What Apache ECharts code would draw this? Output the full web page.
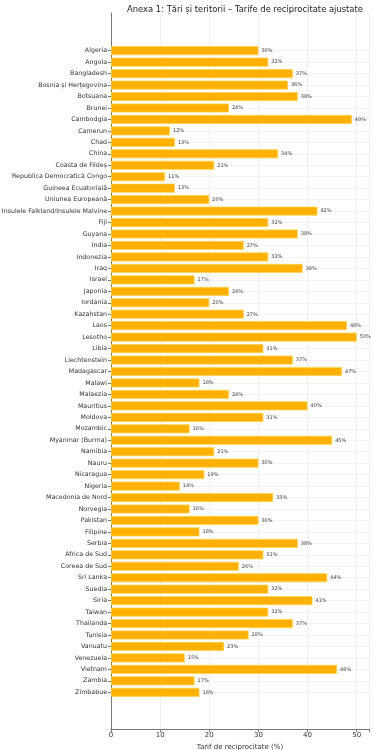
<!DOCTYPE html>
<html>
<head>
<meta charset="utf-8">
<script src="https://cdn.jsdelivr.net/npm/echarts@6/dist/echarts.min.js"></script>
<style>html,body{margin:0;padding:0;background:#fff;}#c{width:373px;height:750px;}</style>
</head>
<body>
<div id="c"></div>
<script>
var categories = ["Algeria","Angola","Bangladesh","Bosnia și Herțegovina","Botsuana","Brunei","Cambodgia","Camerun","Chad","China","Coasta de Fildeș","Republica Democratică Congo","Guineea Ecuatorială","Uniunea Europeană","Insulele Falkland/Insulele Malvine","Fiji","Guyana","India","Indonezia","Iraq","Israel","Japonia","Iordania","Kazahstan","Laos","Lesotho","Libia","Liechtenstein","Madagascar","Malawi","Malaezia","Mauritius","Moldova","Mozambic","Myanmar (Burma)","Namibia","Nauru","Nicaragua","Nigeria","Macedonia de Nord","Norvegia","Pakistan","Filipine","Serbia","Africa de Sud","Coreea de Sud","Sri Lanka","Suedia","Siria","Taiwan","Thailanda","Tunisia","Vanuatu","Venezuela","Vietnam","Zambia","Zimbabue"];
var tariffs = [30,32,37,36,38,24,49,12,13,34,21,11,13,20,42,32,38,27,32,39,17,24,20,27,48,50,31,37,47,18,24,40,31,16,45,21,30,19,14,33,16,30,18,38,31,26,44,32,41,32,37,28,23,15,46,17,18];
var xTicks = [0,10,20,30,40,50];
var titleText = "Anexa 1: Țări și teritorii – Tarife de reciprocitate ajustate";
var xName = "Tarif de reciprocitate (%)";

var chart = echarts.init(document.getElementById('c'));
var FONT = 'DejaVu Sans';
chart.setOption({
  animation: false,
  textStyle: {fontFamily: FONT},
  title: {text: titleText, left: 240, textAlign: 'center', top: 1,
    textStyle: {fontFamily: FONT, fontSize: 8.4, fontWeight: 'normal', color: '#222'}},
  grid: [
    {left: 111, right: 4, top: 13, bottom: 21, outerBoundsMode: 'none', containLabel: false},
    {left: 111, right: 4, top: 50.7, bottom: 57.7, outerBoundsMode: 'none', containLabel: false}
  ],
  xAxis: [
    {type: 'value', gridIndex: 0, min: 0, max: 52.5, interval: 10,
      axisLine: {show: true, lineStyle: {color: '#777', width: 1}},
      axisTick: {show: true, length: 3, lineStyle: {color: '#777'}},
      axisLabel: {fontSize: 7, color: '#333', margin: 3,
        formatter: function(v){ return xTicks.indexOf(v) >= 0 ? String(v) : ''; }},
      splitLine: {show: true, lineStyle: {color: '#ececec', width: 0.8}},
      name: xName, nameLocation: 'middle', nameGap: 12,
      nameTextStyle: {fontSize: 7, color: '#333'}},
    {type: 'value', gridIndex: 1, min: 0, max: 52.5, show: false}
  ],
  yAxis: [
    {type: 'value', gridIndex: 0, min: 0, max: 1,
      axisLine: {show: true, lineStyle: {color: '#777', width: 1}},
      axisTick: {show: false}, axisLabel: {show: false}, splitLine: {show: false}},
    {type: 'category', gridIndex: 1, data: categories, inverse: true, boundaryGap: false,
      axisLine: {show: false},
      axisTick: {show: true, length: 3, lineStyle: {color: '#777'}},
      axisLabel: {fontSize: 6.3, color: '#333', margin: 4, interval: 0},
      splitLine: {show: true, interval: 0, lineStyle: {color: '#f0f0f0', width: 0.8}}}
  ],
  series: [{
    type: 'bar', xAxisIndex: 1, yAxisIndex: 1, data: tariffs, barWidth: 9, clip: false,
    itemStyle: {color: '#FFB000', borderColor: '#FFD34D', borderWidth: 0.8},
    label: {show: true, position: 'right', distance: 3, fontSize: 5, color: '#444',
      formatter: '{c}%'}
  }]
});
</script>
</body>
</html>
